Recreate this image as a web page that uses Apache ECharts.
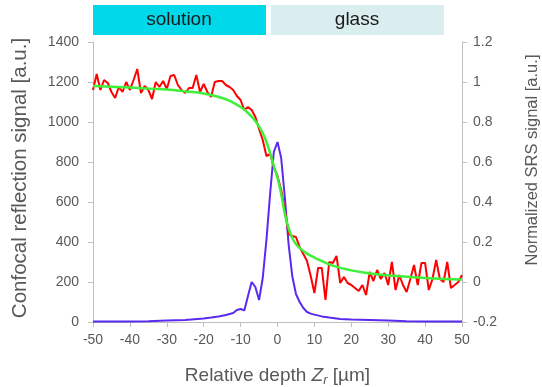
<!DOCTYPE html>
<html><head><meta charset="utf-8">
<script src="https://cdn.jsdelivr.net/npm/echarts@6/dist/echarts.min.js"></script>
<style>html,body{margin:0;padding:0;background:#fff}#c{width:542px;height:387px}</style>
</head><body><div id="c"></div>
<script>
const xTicks = [-50,-40,-30,-20,-10,0,10,20,30,40,50];
const depthRed = [-50,-49,-48,-47,-46,-45,-44,-43,-42,-41,-40,-39,-38,-37,-36,-35,-34,-33,-32,-31,-30,-29,-28,-27,-26,-25,-24,-23,-22,-21,-20,-19,-18,-17,-16,-15,-14,-13,-12,-11,-10,-9,-8,-7,-6,-5,-4,-3,-2,-1,0,1,2,3,4,5,6,7,8,9,10,11,12,13,14,15,16,17,18,19,20,21,22,23,24,25,26,27,28,29,30,31,32,33,34,35,36,37,38,39,40,41,42,43,44,45,46,47,48,49,50];
const reflection = [1160,1240,1160,1210,1195,1150,1120,1175,1150,1200,1160,1210,1265,1145,1180,1160,1115,1200,1175,1205,1165,1230,1235,1185,1160,1145,1170,1170,1235,1150,1190,1150,1125,1200,1205,1205,1185,1175,1160,1130,1110,1060,1075,1060,1025,965,910,830,840,775,730,660,560,440,430,425,375,340,305,230,145,270,270,110,300,295,330,195,225,195,185,170,155,185,135,250,205,260,215,245,185,300,160,235,185,150,215,285,185,295,295,160,215,310,215,200,300,170,185,200,235];
const depthFit = [-50,-40,-30,-25,-20,-15,-12,-10,-8,-6,-4,-3,-2,-1,0,1,2,3,4,5,6,8,10,12,15,20,25,30,40,50];
const fitValues = [1180,1172,1162,1153,1142,1120,1097,1075,1045,1005,945,900,845,780,720,640,540,470,420,390,370,342,322,305,282,258,243,233,220,212];
const depthSRS = [-50,-45,-40,-35,-30,-25,-20,-18,-16,-14,-13,-12,-11,-10,-9,-8,-7,-6,-5,-4,-3,-2,-1,0,1,2,3,4,5,6,7,8,9,10,12,14,17,20,25,30,35,40,50];
const srsValues = [-0.198,-0.198,-0.197,-0.196,-0.193,-0.19,-0.183,-0.178,-0.172,-0.165,-0.16,-0.155,-0.14,-0.135,-0.142,-0.07,0.0,-0.025,-0.09,0.02,0.21,0.44,0.65,0.70,0.62,0.42,0.19,0.03,-0.06,-0.10,-0.13,-0.15,-0.158,-0.163,-0.172,-0.178,-0.185,-0.188,-0.19,-0.193,-0.196,-0.198,-0.198];
const leftTicks = [0,200,400,600,800,1000,1200,1400];
const rightTicks = [-0.2,0,0.2,0.4,0.6,0.8,1,1.2];
const bannerLabels = ['solution','glass'];

const zip = (a,b)=>a.map((v,i)=>[v,b[i]]);
const FONT = '"Liberation Sans", Arial, sans-serif';
const axisGray = '#bfbfbf';
const textGray = '#595959';

const chart = echarts.init(document.getElementById('c'), null, {renderer:'canvas'});
chart.setOption({
  animation:false,
  backgroundColor:'#fff',
  textStyle:{fontFamily:FONT},
  grid:{left:93,right:80,top:42,bottom:65,containLabel:false,outerBoundsMode:'none'},
  xAxis:{type:'value',min:xTicks[0],max:xTicks[xTicks.length-1],interval:10,
    axisLine:{onZero:false,lineStyle:{color:axisGray,width:1}},
    axisTick:{show:true,length:5,lineStyle:{color:axisGray}},
    splitLine:{show:false},
    axisLabel:{color:textGray,fontSize:14,margin:11,fontFamily:FONT},
    name:'{n|Relative depth }{z|Z}{s|r}{n| [µm]}',nameLocation:'middle',nameGap:43,
    nameTextStyle:{rich:{n:{fontSize:19,color:textGray,fontFamily:FONT},z:{fontSize:19,color:textGray,fontStyle:'italic',fontFamily:FONT},s:{fontSize:13,color:textGray,fontStyle:'italic',fontFamily:FONT,verticalAlign:'bottom',padding:[9,0,0,0]}}}
  },
  yAxis:[
    {type:'value',min:leftTicks[0],max:leftTicks[leftTicks.length-1],interval:200,position:'left',
      axisLine:{show:true,onZero:false,lineStyle:{color:axisGray}},
      axisTick:{show:true,length:5,lineStyle:{color:axisGray}},
      splitLine:{show:false},
      axisLabel:{color:textGray,fontSize:14,margin:14,fontFamily:FONT,formatter:v=>String(v)},
      name:'Confocal reflection signal [a.u.]',nameLocation:'middle',nameGap:62,
      nameTextStyle:{color:textGray,fontSize:20.5,fontFamily:FONT,padding:[0,0,0,8]}
    },
    {type:'value',min:rightTicks[0],max:rightTicks[rightTicks.length-1],interval:0.2,position:'right',
      axisLine:{show:true,onZero:false,lineStyle:{color:axisGray}},
      axisTick:{show:true,length:5,lineStyle:{color:axisGray}},
      splitLine:{show:false},
      axisLabel:{color:textGray,fontSize:14,margin:11,fontFamily:FONT,formatter:v=>String(parseFloat(v.toFixed(1)))},
      name:'Normalized SRS signal [a.u.]',nameLocation:'middle',nameGap:62,
      nameTextStyle:{color:textGray,fontSize:16.5,fontFamily:FONT,padding:[0,0,0,44]}
    }
  ],
  series:[
    {type:'line',yAxisIndex:1,data:zip(depthSRS,srsValues),showSymbol:false,lineStyle:{color:'#5a2af0',width:2},z:2},
    {type:'line',yAxisIndex:0,data:zip(depthRed,reflection),showSymbol:false,lineStyle:{color:'#ff0000',width:2},z:3},
    {type:'line',yAxisIndex:0,data:zip(depthFit,fitValues),showSymbol:false,smooth:true,lineStyle:{color:'#3ef03a',width:2.5},z:4}
  ],
  graphic:[
    {type:'rect',x:93,y:5,shape:{width:173,height:30},style:{fill:'#00d9ea'}},
    {type:'text',x:179,y:20,style:{text:bannerLabels[0],fontSize:19,fill:'#1a1a1a',fontFamily:FONT,textAlign:'center',textVerticalAlign:'middle'}},
    {type:'rect',x:271,y:5,shape:{width:173,height:30},style:{fill:'#daeef0'}},
    {type:'text',x:357,y:20,style:{text:bannerLabels[1],fontSize:19,fill:'#1a1a1a',fontFamily:FONT,textAlign:'center',textVerticalAlign:'middle'}}
  ]
});
</script></body></html>
